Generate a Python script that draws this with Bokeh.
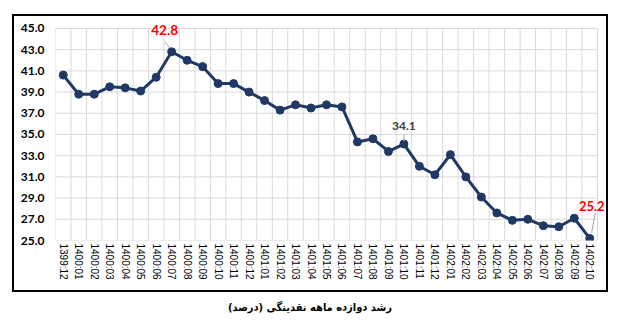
from bokeh.plotting import figure
from bokeh.models import FixedTicker, Label, NumeralTickFormatter, Div
from bokeh.layouts import column
from bokeh.embed import file_html
from bokeh.resources import INLINE

categories = ["1399:12",
              "1400:01", "1400:02", "1400:03", "1400:04", "1400:05", "1400:06",
              "1400:07", "1400:08", "1400:09", "1400:10", "1400:11", "1400:12",
              "1401:01", "1401:02", "1401:03", "1401:04", "1401:05", "1401:06",
              "1401:07", "1401:08", "1401:09", "1401:10", "1401:11", "1401:12",
              "1402:01", "1402:02", "1402:03", "1402:04", "1402:05", "1402:06",
              "1402:07", "1402:08", "1402:09", "1402:10"]
growth = [40.6,
          38.8, 38.8, 39.5, 39.4, 39.1, 40.4,
          42.8, 42.0, 41.4, 39.8, 39.8, 39.0,
          38.2, 37.3, 37.8, 37.5, 37.8, 37.6,
          34.3, 34.6, 33.4, 34.1, 32.0, 31.2,
          33.1, 31.0, 29.1, 27.6, 26.9, 27.0,
          26.4, 26.3, 27.1, 25.2]
y_ticks = [25, 27, 29, 31, 33, 35, 37, 39, 41, 43, 45]
title_text = "رشد دوازده ماهه نقدینگی (درصد)"
annotated = ["1400:07", "1401:10", "1402:10"]

n = len(categories)
xs = [i + 0.5 for i in range(n)]
y_min, y_max = y_ticks[0], y_ticks[-1]

p = figure(width=596, height=278, x_range=(0, n + 0.84), y_range=(y_min, y_max + 1.13),
           output_backend="svg", toolbar_location=None,
           min_border_left=41, min_border_right=0, min_border_top=0,
           min_border_bottom=54)
p.margin = (14, 0, 0, 12)
p.styles = {"border": "2px solid black"}
p.outline_line_color = None
p.background_fill_color = "white"
p.border_fill_color = "white"
p.xgrid.visible = False
p.ygrid.visible = False

# gridlines bounded to the value/category area
grid_color = "#D9D9D9"
p.segment(x0=list(range(n + 1)), y0=[y_min] * (n + 1),
          x1=list(range(n + 1)), y1=[y_max] * (n + 1),
          line_color=grid_color, line_width=1)
p.segment(x0=[0] * len(y_ticks), y0=y_ticks, x1=[n] * len(y_ticks), y1=y_ticks,
          line_color=grid_color, line_width=1)

p.yaxis.ticker = FixedTicker(ticks=y_ticks)
p.yaxis.formatter = NumeralTickFormatter(format="0.0")
p.yaxis.major_label_text_font = "Lato"
p.yaxis.major_label_text_font_style = "bold"
p.yaxis.major_label_text_font_size = "12px"
p.yaxis.major_label_text_color = "#000000"
p.yaxis.major_label_standoff = 11

p.xaxis.ticker = FixedTicker(ticks=xs)
p.xaxis.major_label_overrides = {x: c for x, c in zip(xs, categories)}
p.xaxis.major_label_orientation = "vertical"
p.xaxis.major_label_text_font = "Liberation Sans"
p.xaxis.major_label_text_font_size = "10px"
p.xaxis.major_label_text_color = "#000000"
p.xaxis.major_label_standoff = 3

for ax in (p.xaxis, p.yaxis):
    ax.axis_line_color = None
    ax.major_tick_line_color = None
    ax.minor_tick_line_color = None
    ax.major_tick_out = 0
    ax.major_tick_in = 0
    ax.minor_tick_out = 0

navy = "#203864"
p.line(xs, growth, line_width=3, color=navy)
p.scatter(xs, growth, size=8, color=navy)

# data labels with leader lines
label_style = {
    "1400:07": dict(color="#FF0000", size="13.5px", dx=-7, dy=22, lx=(-0.45, -0.12), ly=(0.95, 0.35)),
    "1401:10": dict(color="#404040", size="12px", dx=0, dy=18, lx=(0.0, 0.0), ly=(0.85, 0.25)),
    "1402:10": dict(color="#FF0000", size="13px", dx=2, dy=32, lx=(0.35, 0.12), ly=(2.4, 0.5)),
}
for cat in annotated:
    i = categories.index(cat)
    v = growth[i]
    st = label_style[cat]
    p.segment(x0=[xs[i] + st["lx"][0]], y0=[v + st["ly"][0]],
              x1=[xs[i] + st["lx"][1]], y1=[v + st["ly"][1]],
              line_color="#A6A6A6", line_width=1)
    p.add_layout(Label(x=xs[i], y=v, text=f"{v:.1f}", x_offset=st["dx"], y_offset=st["dy"],
                       text_align="center", text_baseline="middle",
                       text_font="Lato", text_font_style="bold",
                       text_font_size=st["size"], text_color=st["color"]))

title = Div(text=title_text, width=627, height=18, margin=(8, 0, 0, 0),
            styles={"text-align": "center",
                    "font-family": "'DejaVu Sans Condensed', 'DejaVu Sans'",
                    "font-stretch": "condensed",
                    "font-weight": "bold", "font-size": "11px", "color": "#000000",
                    "direction": "rtl", "width": "620px"})

layout = column(p, title, spacing=0)
layout.margin = (0, 0, 0, 0)

open("out.html", "w").write(file_html(layout, INLINE))
